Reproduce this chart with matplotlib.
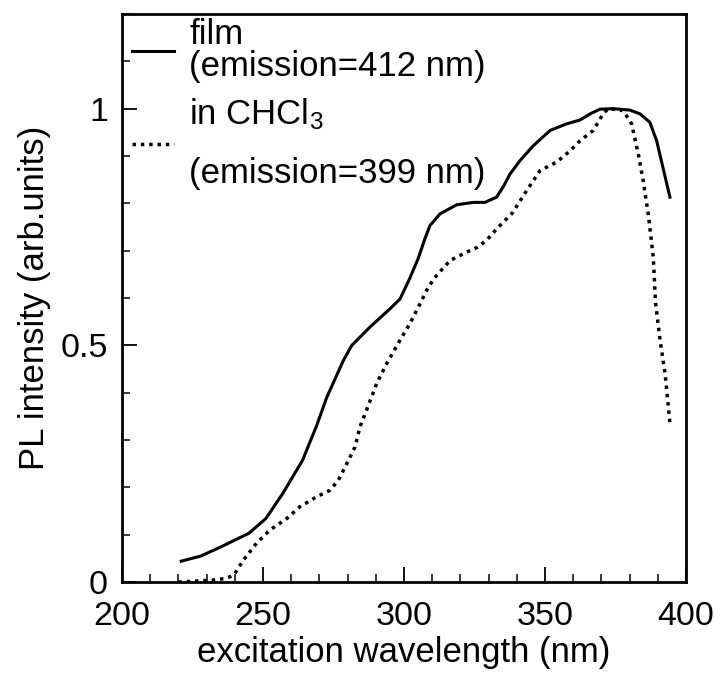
# -*- coding: utf-8 -*-
"""
PL excitation spectra: film vs CHCl3 solution
"""
import numpy as np
import matplotlib
matplotlib.use("Agg")
import matplotlib.pyplot as plt
from matplotlib.ticker import MultipleLocator, FixedLocator, FixedFormatter

plt.rcParams['font.family'] = ['Liberation Sans', 'DejaVu Sans']
plt.rcParams['mathtext.default'] = 'regular'

# film, emission at 412 nm (solid)
film_x = [221, 228, 235, 245, 251, 257, 264, 269, 272.6, 278.5, 281.5, 288, 295,
          298.6, 302, 305, 307.4, 309.2, 312.8, 318.7, 324.6, 328.7, 332.8, 335.2,
          337.6, 341.1, 345.9, 351.8, 357.7, 362.4, 366, 369.5, 374.2, 380.1,
          383.7, 387.2, 389.6, 394.3]
film_y = [0.044, 0.055, 0.074, 0.103, 0.134, 0.187, 0.257, 0.330, 0.390, 0.468,
          0.500, 0.539, 0.577, 0.598, 0.641, 0.683, 0.725, 0.753, 0.778, 0.797,
          0.802, 0.802, 0.813, 0.835, 0.862, 0.890, 0.922, 0.954, 0.968, 0.976,
          0.989, 0.999, 1.000, 0.997, 0.989, 0.971, 0.932, 0.813]

# in CHCl3, emission at 399 nm (dotted)
chcl_x = [220, 226, 232, 236, 238.3, 239.7, 243, 247.7, 252.5, 258.4, 263.1, 269,
          273.8, 276.7, 279.7, 282.6, 284.4, 286.7, 290.3, 293.8, 298.6, 302.1,
          305.7, 308.6, 311.6, 316.3, 322.2, 326, 329.3, 333.5, 338.5, 343.5,
          348.2, 354.1, 358.9, 362.4, 367.1, 370.6, 372.4, 377.7, 380.7, 383.1,
          384.8, 386.6, 388.4, 389.2, 390.8, 392.6, 394.3]
chcl_y = [0.000, 0.002, 0.004, 0.007, 0.011, 0.015, 0.046, 0.082, 0.110, 0.134,
          0.159, 0.180, 0.194, 0.215, 0.250, 0.285, 0.328, 0.363, 0.419, 0.461,
          0.511, 0.546, 0.588, 0.623, 0.648, 0.679, 0.697, 0.707, 0.722, 0.750,
          0.780, 0.827, 0.869, 0.887, 0.911, 0.932, 0.954, 0.989, 1.000, 0.996,
          0.968, 0.904, 0.848, 0.778, 0.686, 0.590, 0.511, 0.440, 0.336]

x_ticks = [200, 250, 300, 350, 400]
y_ticks = [0, 0.5, 1]
y_ticklabels = ['0', '0.5', '1']

fig = plt.figure(figsize=(7.16, 6.73), dpi=100)
ax = fig.add_axes([0.1704, 0.1352, 0.7877, 0.8440])

ax.plot(film_x, film_y, color='black', linewidth=2.2, linestyle='-',
        label='film\n(emission=412 nm)')
ax.plot(chcl_x, chcl_y, color='black', linewidth=2.5, linestyle=(0, (1, 1.4)),
        label='in CHCl$_3$\n(emission=399 nm)')

ax.set_xlim(200, 400)
ax.set_ylim(0, 1.2)

ax.xaxis.set_major_locator(FixedLocator(x_ticks))
ax.xaxis.set_minor_locator(MultipleLocator(10))
ax.yaxis.set_major_locator(FixedLocator(y_ticks))
ax.yaxis.set_major_formatter(FixedFormatter(y_ticklabels))
ax.yaxis.set_minor_locator(MultipleLocator(0.1))

ax.tick_params(which='both', direction='in', top=False, right=False, labelsize=24.5)
ax.tick_params(which='major', length=11, width=1.3)
ax.tick_params(which='minor', length=6, width=1.1)
ax.tick_params(axis='x', which='major', pad=13.5)
ax.tick_params(axis='y', which='major', pad=10)

for sp in ax.spines.values():
    sp.set_linewidth(2.0)

ax.set_xlabel('excitation wavelength (nm)', fontsize=25, labelpad=3)
ax.set_ylabel('PL intensity (arb.units)', fontsize=25, labelpad=7)

leg = ax.legend(loc='upper left', bbox_to_anchor=(0.0177, 0.993), frameon=False,
                fontsize=25, handlelength=1.2, handletextpad=0.45, borderpad=0.0,
                borderaxespad=0.0, labelspacing=0.39)
texts = leg.get_texts()
texts[0].set_linespacing(0.97)
texts[1].set_linespacing(1.95)

fig.savefig('out.png', dpi=100)
